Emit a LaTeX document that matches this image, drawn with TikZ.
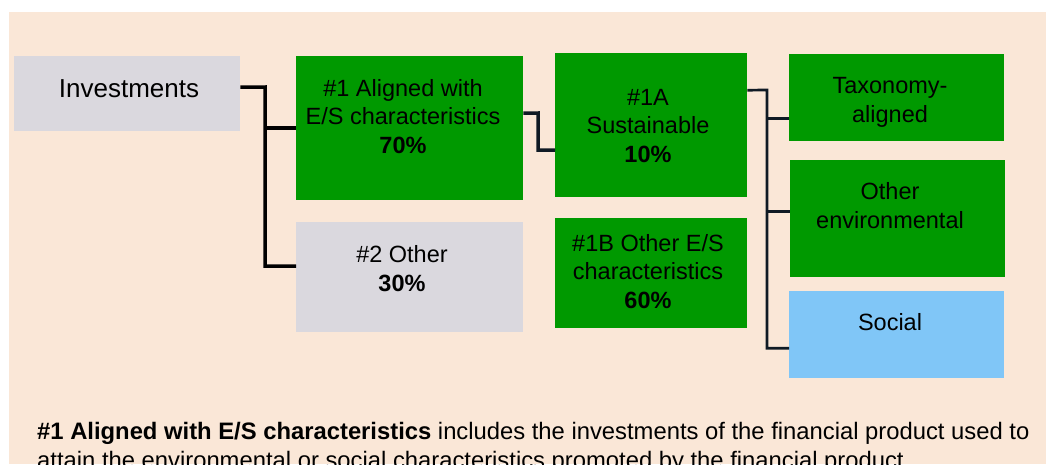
\documentclass[tikz,border=0pt]{standalone}
\usepackage{fontspec}
\setmainfont{Liberation Sans}
\definecolor{peach}{HTML}{FAE7D7}
\definecolor{esgreen}{HTML}{009900}
\definecolor{esgray}{HTML}{DAD8DE}
\definecolor{esblue}{HTML}{80C6F7}
\definecolor{navy}{HTML}{0F1A24}
\tikzset{
  box/.style={rectangle, draw=none, inner sep=0pt, anchor=north west},
  txt/.style={inner sep=0pt, align=center, anchor=base, font=\fontsize{23.5}{28.5}\selectfont},
  conn/.style={line width=3.5pt, black},
  connr/.style={line width=2.7pt, navy},
}
\begin{document}
\begin{tikzpicture}[x=1pt,y=-1pt]
\useasboundingbox (0,0) rectangle (1046,464);
\clip (0,0) rectangle (1046,464);
\fill[white] (0,0) rectangle (1046,464);
\fill[peach] (9,12) rectangle (1046,464);

% boxes
\node[box, fill=esgray, minimum width=226pt, minimum height=75pt] (inv) at (14,56) {};
\node[box, fill=esgreen, minimum width=227pt, minimum height=144pt] (n1) at (296,56) {};
\node[box, fill=esgray, minimum width=227pt, minimum height=110pt] (n2) at (296,222) {};
\node[box, fill=esgreen, minimum width=192pt, minimum height=144pt] (n1a) at (555,53) {};
\node[box, fill=esgreen, minimum width=192pt, minimum height=110pt] (n1b) at (555,218) {};
\node[box, fill=esgreen, minimum width=215pt, minimum height=87pt] (tax) at (789,54) {};
\node[box, fill=esgreen, minimum width=215pt, minimum height=117pt] (oenv) at (790,160) {};
\node[box, fill=esblue, minimum width=215pt, minimum height=87pt] (soc) at (789,291) {};

% texts (anchored at the baseline of the last line)
\node[txt, font=\fontsize{26}{30}\selectfont] (invt) at (129,97) {Investments};
\node[txt] (n1t) at (403,153) {\#1 Aligned with\\E/S characteristics\\\textbf{70\%}};
\node[txt] (n2t) at (402,291) {\#2 Other\\\textbf{30\%}};
\node[txt] (n1at) at (648,162) {\#1A\\Sustainable\\\textbf{10\%}};
\node[txt] (n1bt) at (648,308) {\#1B Other E/S\\characteristics\\\textbf{60\%}};
\node[txt] (taxt) at (890,122) {Taxonomy-\\aligned};
\node[txt] (oenvt) at (890,228) {Other\\environmental};
\node[txt] (soct) at (890,330) {Social};

% connectors
\coordinate (b1) at (265,87);
\draw[conn] ([yshift=6.5pt]inv.east) -- (b1) |- ([yshift=11pt]n2.west);
\draw[conn] (b1 |- n1.west) -- (n1.west);
\coordinate (b2) at (538,113);
\draw[conn, navy] ([yshift=15pt]n1.east) -- (b2) |- ([yshift=-25pt]n1a.west);
\coordinate (b3) at (767,90);
\draw[connr] ([yshift=35pt]n1a.east) -- (b3) |- ([yshift=-13.5pt]soc.west);
\draw[connr] (b3 |- tax.west) ++(0,20.5) -- ([yshift=-20.5pt]tax.west);
\draw[connr] (b3 |- oenv.west) ++(0,-7.5) -- ([yshift=7.5pt]oenv.west);

% note
\node[inner sep=0pt, anchor=base west, align=left, font=\fontsize{23.8}{29}\selectfont] (note) at (37,468.5)
  {\textbf{\#1 Aligned with E/S characteristics} includes the investments of the financial product used to\\
   attain the environmental or social characteristics promoted by the financial product};
\end{tikzpicture}
\end{document}
